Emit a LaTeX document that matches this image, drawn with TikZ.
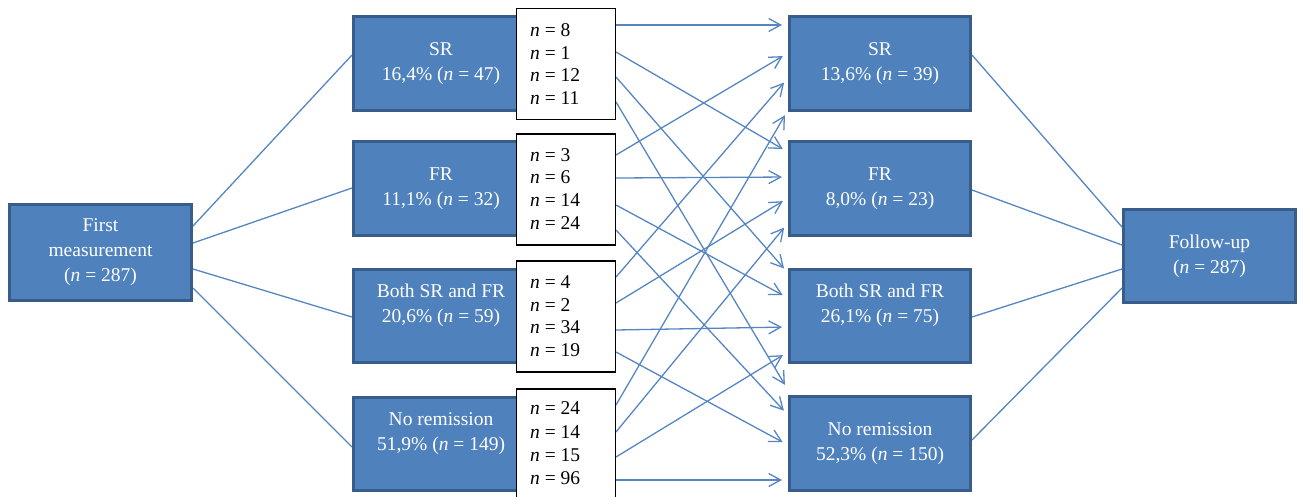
\documentclass[tikz,border=0pt]{standalone}
\usepackage{fontspec}
\setmainfont{Liberation Serif}
\usetikzlibrary{arrows.meta}
\definecolor{boxfill}{HTML}{4F81BD}
\definecolor{boxedge}{HTML}{385D8A}
\definecolor{linkblue}{HTML}{5586C2}
\pgfdeclarelayer{bg}
\pgfsetlayers{bg,main}
\newcommand{\nn}{\textit{n}}
\begin{document}
\begin{tikzpicture}[x=1pt,y=-1pt,
  stage/.style={draw=boxedge, line width=3pt, fill=boxfill, text=white,
    align=center, inner sep=0pt, font=\fontsize{19.5}{25}\selectfont},
  tally/.style={draw=black, line width=1.1pt, fill=white,
    minimum width=98.9pt, minimum height=111pt, inner sep=0pt},
  cnt/.style={anchor=base west, inner sep=0pt, font=\fontsize{19.5}{23}\selectfont},
  link/.style={draw=linkblue, line width=1.3pt},
  flow/.style={link, shorten >=6pt,
    -{Straight Barb[length=12pt,width=13pt,line width=1.3pt]}}]
\useasboundingbox (0,0) rectangle (1304,496);

% outer stages
\node[stage, minimum width=182pt, minimum height=96pt] (first) at (100.5,252.5)
  {First\\measurement\\(\nn{} = 287)};
\node[stage, minimum width=172pt, minimum height=93pt] (follow) at (1209.5,256)
  {Follow-up\\(\nn{} = 287)};

% stages at the first measurement
\node[stage, minimum width=175pt, minimum height=94pt] (mSR) at (441,63.5)
  {SR\\16,4\% (\nn{} = 47)};
\node[stage, minimum width=175pt, minimum height=94pt] (mFR) at (441,188.5)
  {FR\\11,1\% (\nn{} = 32)};
\node[stage, minimum width=175pt, minimum height=93pt] (mBoth) at (441,316)
  {Both SR and FR\\20,6\% (\nn{} = 59)\\\mbox{}};
\node[stage, minimum width=175pt, minimum height=93pt] (mNo) at (441,444)
  {No remission\\51,9\% (\nn{} = 149)\\\mbox{}};

% stages at follow-up
\node[stage, minimum width=181pt, minimum height=94pt] (fSR) at (880,63.5)
  {SR\\13,6\% (\nn{} = 39)};
\node[stage, minimum width=181pt, minimum height=94pt] (fFR) at (880,188.5)
  {FR\\8,0\% (\nn{} = 23)};
\node[stage, minimum width=181pt, minimum height=93pt] (fBoth) at (880,316)
  {Both SR and FR\\26,1\% (\nn{} = 75)\\\mbox{}};
\node[stage, minimum width=181pt, minimum height=94pt] (fNo) at (880,443.5)
  {No remission\\52,3\% (\nn{} = 150)};

% transition counts
\node[tally] (w1) at (566,64) {};
\node[tally] (w2) at (566,189.5) {};
\node[tally] (w3) at (566,316.5) {};
\node[tally] (w4) at (566,444.5) {};

\foreach \b/\ya/\yb/\yc/\yd/\ca/\cb/\cc/\cd in {
    1/30/53/75/98/8/1/12/11,
    2/155/177/200/223/3/6/14/24,
    3/282/305/327/350/4/2/34/19,
    4/408/432/455/478/24/14/15/96}{
  \node[cnt] (c\b a) at (530,\ya+6) {\nn{} = \ca};
  \node[cnt] (c\b b) at (530,\yb+6) {\nn{} = \cb};
  \node[cnt] (c\b c) at (530,\yc+6) {\nn{} = \cc};
  \node[cnt] (c\b d) at (530,\yd+6) {\nn{} = \cd};
}

\begin{pgfonlayer}{bg}
  % first measurement to its stages
  \draw[link] (first.east |- 0,226) -- (mSR.west |- 0,55);
  \draw[link] (first.east |- 0,243) -- (mFR.west |- 0,188);
  \draw[link] (first.east |- 0,269) -- (mBoth.west |- 0,317);
  \draw[link] (first.east |- 0,288) -- (mNo.west |- 0,447);
  % follow-up stages to follow-up
  \draw[link] (fSR.east |- 0,55) -- (follow.west |- 0,227);
  \draw[link] (fFR.east |- 0,190) -- (follow.west |- 0,245);
  \draw[link] (fBoth.east |- 0,317) -- (follow.west |- 0,269);
  \draw[link] (fNo.east |- 0,440) -- (follow.west |- 0,288);
  % transitions between the two measurements
  \foreach \s/\sy/\t/\ty in {
      w1/25/fSR/25, w1/52/fFR/152, w1/77/fBoth/273, w1/102/fNo/390,
      w2/155/fSR/53, w2/178/fFR/177, w2/205/fBoth/298, w2/230/fNo/415,
      w3/277/fSR/78, w3/303/fFR/198, w3/330/fBoth/327, w3/352/fNo/445,
      w4/405/fSR/110, w4/432/fFR/223, w4/457/fBoth/352, w4/480/fNo/480}{
    \draw[flow] (\s.east |- 0,\sy) -- (\t.west |- 0,\ty);
  }
\end{pgfonlayer}
\end{tikzpicture}
\end{document}
